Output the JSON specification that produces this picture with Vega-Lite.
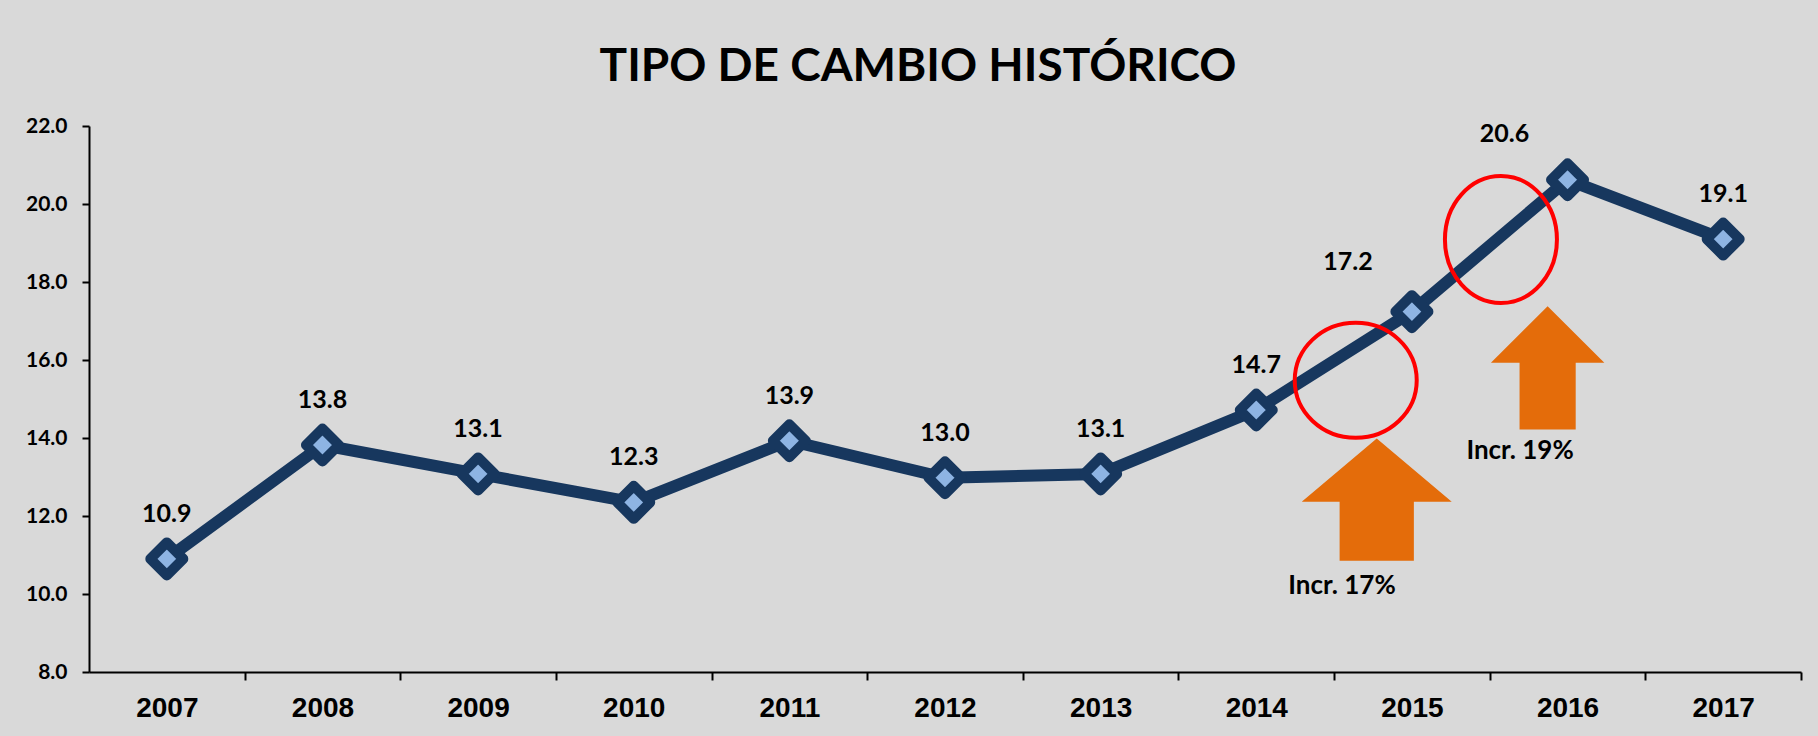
{
  "$schema": "https://vega.github.io/schema/vega-lite/v6.json",
  "width": 1712,
  "height": 546,
  "autosize": "none",
  "padding": {"left": 89, "top": 126, "right": 17, "bottom": 64},
  "background": "#D9D9D9",
  "config": {"view": {"stroke": null}, "font": "Lato"},
  "title": {
    "text": "TIPO DE CAMBIO HISTÓRICO",
    "font": "Lato",
    "fontSize": 46,
    "fontWeight": "bold",
    "color": "#000000",
    "anchor": "middle",
    "frame": "group",
    "baseline": "alphabetic",
    "offset": -12,
    "dx": -27
  },
  "datasets": {
    "fx": [
      {"year": 2007, "rate": 10.9},
      {"year": 2008, "rate": 13.82},
      {"year": 2009, "rate": 13.08},
      {"year": 2010, "rate": 12.35},
      {"year": 2011, "rate": 13.93},
      {"year": 2012, "rate": 12.98},
      {"year": 2013, "rate": 13.08},
      {"year": 2014, "rate": 14.72},
      {"year": 2015, "rate": 17.24},
      {"year": 2016, "rate": 20.62},
      {"year": 2017, "rate": 19.1}
    ],
    "notes": [
      {"kind": "ring1", "year": 2014.639, "rate": 15.48},
      {"kind": "ring2", "year": 2015.572, "rate": 19.09},
      {"kind": "arrow1", "year": 2014.774, "rate": 12.42},
      {"kind": "arrow2", "year": 2015.872, "rate": 15.8},
      {"kind": "text", "year": 2014.551, "rate": 10.2, "label": "Incr. 17%"},
      {"kind": "text", "year": 2015.695, "rate": 13.67, "label": "Incr. 19%"}
    ]
  },
  "encoding": {
    "x": {
      "field": "year",
      "type": "quantitative",
      "scale": {"domain": [2006.5, 2017.5], "nice": false, "zero": false},
      "axis": {
        "title": null,
        "values": [2007, 2008, 2009, 2010, 2011, 2012, 2013, 2014, 2015, 2016, 2017],
        "format": "d",
        "grid": false,
        "domainColor": "#000000",
        "domainWidth": 2,
        "tickColor": "#000000",
        "tickWidth": 2,
        "tickSize": 8,
        "tickOffset": 77.82,
        "labelOffset": -77.82,
        "labelFont": "Liberation Sans",
        "labelFontSize": 28,
        "labelFontWeight": "bold",
        "labelColor": "#000000",
        "labelPadding": 14,
        "labelFlush": false,
        "labelOverlap": false
      }
    },
    "y": {
      "field": "rate",
      "type": "quantitative",
      "scale": {"domain": [8, 22], "nice": false, "zero": false},
      "axis": {
        "title": null,
        "values": [8, 10, 12, 14, 16, 18, 20, 22],
        "format": ".1f",
        "grid": false,
        "domainColor": "#000000",
        "domainWidth": 2,
        "tickColor": "#000000",
        "tickWidth": 2,
        "tickSize": 7,
        "labelFont": "Lato",
        "labelFontSize": 21,
        "labelFontWeight": "bold",
        "labelColor": "#000000",
        "labelPadding": 15,
        "labelOverlap": false
      }
    }
  },
  "layer": [
    {
      "data": {"name": "fx"},
      "mark": {"type": "line", "color": "#17375E", "strokeWidth": 12, "strokeJoin": "round"}
    },
    {
      "data": {"name": "fx"},
      "mark": {"type": "point", "shape": "diamond", "size": 1089, "filled": true, "fill": "#8EB4E3", "stroke": "#17375E", "strokeWidth": 10, "strokeJoin": "round", "opacity": 1}
    },
    {
      "data": {"name": "fx"},
      "transform": [{"filter": "datum.year != 2015 && datum.year != 2016"}],
      "mark": {"type": "text", "font": "Lato", "fontSize": 25, "fontWeight": "bold", "color": "#000000", "baseline": "alphabetic", "align": "center", "dy": -37},
      "encoding": {"text": {"field": "rate", "type": "quantitative", "format": ".1f"}}
    },
    {
      "data": {"name": "fx"},
      "transform": [{"filter": "datum.year == 2015"}],
      "mark": {"type": "text", "font": "Lato", "fontSize": 25, "fontWeight": "bold", "color": "#000000", "baseline": "alphabetic", "align": "center", "dx": -64, "dy": -42},
      "encoding": {"text": {"field": "rate", "type": "quantitative", "format": ".1f"}}
    },
    {
      "data": {"name": "fx"},
      "transform": [{"filter": "datum.year == 2016"}],
      "mark": {"type": "text", "font": "Lato", "fontSize": 25, "fontWeight": "bold", "color": "#000000", "baseline": "alphabetic", "align": "center", "dx": -63, "dy": -38},
      "encoding": {"text": {"field": "rate", "type": "quantitative", "format": ".1f"}}
    },
    {
      "data": {"name": "notes"},
      "transform": [{"filter": "datum.kind == 'ring1'"}],
      "mark": {"type": "point", "shape": "M-1,0A1,0.943,0,1,0,1,0A1,0.943,0,1,0,-1,0Z", "size": 14884, "filled": false, "stroke": "#FF0000", "strokeWidth": 4, "opacity": 1}
    },
    {
      "data": {"name": "notes"},
      "transform": [{"filter": "datum.kind == 'ring2'"}],
      "mark": {"type": "point", "shape": "M-0.882,0A0.882,1,0,1,0,0.882,0A0.882,1,0,1,0,-0.882,0Z", "size": 16129, "filled": false, "stroke": "#FF0000", "strokeWidth": 4, "opacity": 1}
    },
    {
      "data": {"name": "notes"},
      "transform": [{"filter": "datum.kind == 'arrow1'"}],
      "mark": {"type": "point", "shape": "M0,-0.816L1,0.029L0.495,0.029L0.495,0.816L-0.495,0.816L-0.495,0.029L-1,0.029Z", "size": 22500, "filled": true, "fill": "#E46C0A", "strokeWidth": 0, "opacity": 1}
    },
    {
      "data": {"name": "notes"},
      "transform": [{"filter": "datum.kind == 'arrow2'"}],
      "mark": {"type": "point", "shape": "M0,-1.087L1,-0.087L0.495,-0.087L0.495,1.087L-0.495,1.087L-0.495,-0.087L-1,-0.087Z", "size": 12860, "filled": true, "fill": "#E46C0A", "strokeWidth": 0, "opacity": 1}
    },
    {
      "data": {"name": "notes"},
      "transform": [{"filter": "datum.kind == 'text'"}],
      "mark": {"type": "text", "font": "Lato", "fontSize": 26, "fontWeight": "bold", "color": "#000000", "baseline": "middle", "align": "center"},
      "encoding": {"text": {"field": "label", "type": "nominal"}}
    }
  ]
}
